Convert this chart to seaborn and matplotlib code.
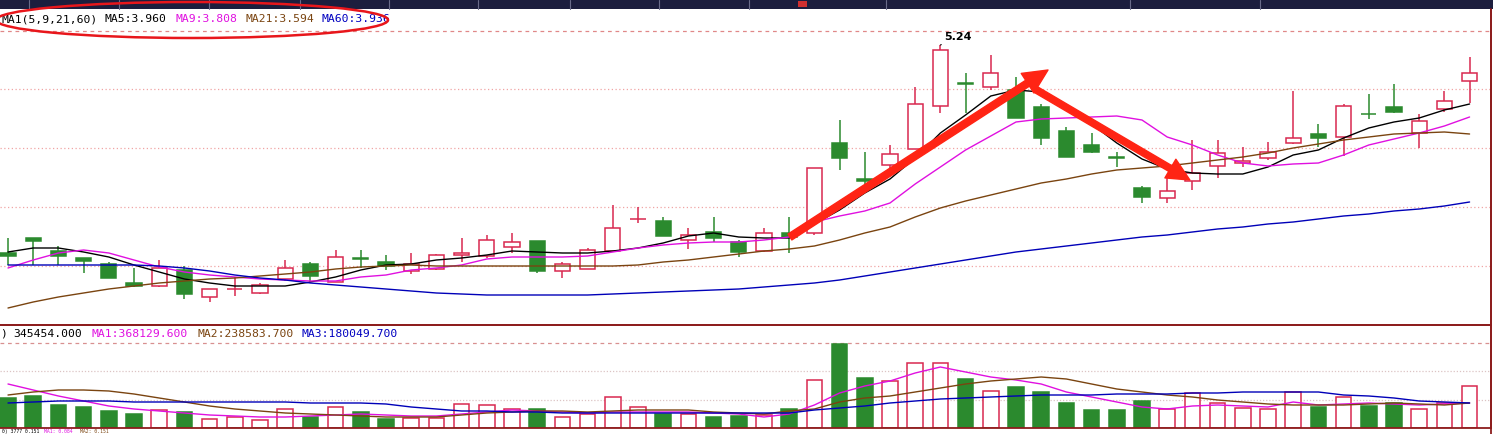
import numpy as np
import pandas as pd
import matplotlib
matplotlib.use("Agg")
import matplotlib.pyplot as plt
import seaborn as sns
from matplotlib.patches import Ellipse, Rectangle
from matplotlib.lines import Line2D

# ---------------- data ----------------
opens = [3.992, 4.082, 4.004, 3.962, 3.926, 3.812, 3.794, 3.890, 3.728, 3.776,
         3.752, 3.836, 3.926, 3.818, 3.962, 3.938, 3.884, 3.896, 3.980, 3.974,
         4.028, 4.064, 3.884, 3.896, 4.004, 4.196, 4.184, 4.070, 4.118, 4.058,
         4.004, 4.112, 4.112, 4.652, 4.436, 4.520, 4.616, 4.874, 5.010, 4.988,
         4.970, 4.868, 4.724, 4.640, 4.565, 4.382, 4.322, 4.424, 4.514, 4.532,
         4.562, 4.652, 4.706, 4.688, 4.829, 4.868, 4.712, 4.856, 5.024]
highs = [4.082, 4.082, 4.034, 3.962, 3.938, 3.902, 3.950, 3.914, 3.776, 3.848,
         3.812, 3.950, 3.938, 4.010, 4.010, 3.980, 3.992, 3.986, 4.082, 4.100,
         4.112, 4.064, 3.938, 4.022, 4.280, 4.268, 4.208, 4.142, 4.208, 4.070,
         4.142, 4.208, 4.502, 4.790, 4.598, 4.640, 4.988, 5.240, 5.072, 5.180,
         5.048, 4.886, 4.748, 4.712, 4.598, 4.394, 4.454, 4.670, 4.670, 4.628,
         4.658, 4.964, 4.766, 4.886, 4.946, 5.006, 4.826, 4.964, 5.168]
lows = [3.920, 3.920, 3.920, 3.872, 3.842, 3.788, 3.788, 3.716, 3.698, 3.734,
        3.746, 3.824, 3.818, 3.818, 3.902, 3.890, 3.866, 3.890, 3.938, 3.962,
        3.992, 3.872, 3.842, 3.896, 3.998, 4.172, 4.094, 4.016, 4.058, 3.968,
        3.998, 3.992, 4.100, 4.490, 4.358, 4.502, 4.616, 4.832, 4.832, 4.970,
        4.802, 4.640, 4.568, 4.592, 4.508, 4.292, 4.292, 4.370, 4.442, 4.508,
        4.550, 4.646, 4.628, 4.574, 4.796, 4.832, 4.622, 4.838, 4.892]
closes = [3.974, 4.064, 3.974, 3.944, 3.842, 3.794, 3.902, 3.746, 3.776, 3.778,
          3.800, 3.902, 3.854, 3.968, 3.956, 3.914, 3.926, 3.980, 3.992, 4.070,
          4.058, 3.884, 3.926, 4.010, 4.142, 4.198, 4.094, 4.100, 4.082, 3.998,
          4.112, 4.088, 4.502, 4.562, 4.424, 4.586, 4.886, 5.210, 5.004, 5.072,
          4.802, 4.682, 4.568, 4.598, 4.559, 4.328, 4.364, 4.472, 4.592, 4.544,
          4.598, 4.682, 4.682, 4.874, 4.823, 4.838, 4.784, 4.904, 5.072]

ma5 = [3.998, 4.022, 4.022, 3.998, 3.968, 3.920, 3.878, 3.836, 3.812, 3.794,
       3.794, 3.794, 3.818, 3.848, 3.890, 3.920, 3.926, 3.950, 3.962, 3.980,
       4.004, 3.998, 3.992, 3.992, 4.004, 4.022, 4.052, 4.094, 4.112, 4.088,
       4.082, 4.082, 4.166, 4.250, 4.352, 4.436, 4.562, 4.712, 4.820, 4.934,
       4.970, 4.958, 4.874, 4.766, 4.652, 4.556, 4.496, 4.472, 4.466, 4.466,
       4.508, 4.580, 4.610, 4.682, 4.742, 4.778, 4.802, 4.850, 4.886]
ma9 = [3.902, 3.950, 3.992, 4.010, 3.992, 3.950, 3.908, 3.878, 3.860, 3.848,
       3.836, 3.830, 3.824, 3.824, 3.848, 3.860, 3.890, 3.902, 3.920, 3.956,
       3.968, 3.968, 3.968, 3.974, 3.998, 4.022, 4.040, 4.052, 4.058, 4.058,
       4.070, 4.088, 4.178, 4.214, 4.244, 4.292, 4.406, 4.508, 4.610, 4.694,
       4.778, 4.796, 4.802, 4.808, 4.814, 4.790, 4.688, 4.640, 4.580, 4.532,
       4.514, 4.526, 4.532, 4.580, 4.640, 4.676, 4.712, 4.754, 4.808]
ma21 = [3.662, 3.698, 3.728, 3.752, 3.776, 3.794, 3.812, 3.824, 3.836, 3.842,
        3.854, 3.866, 3.878, 3.896, 3.908, 3.914, 3.920, 3.914, 3.914, 3.914,
        3.914, 3.914, 3.914, 3.914, 3.914, 3.920, 3.938, 3.950, 3.968, 3.986,
        4.004, 4.016, 4.034, 4.070, 4.112, 4.148, 4.208, 4.262, 4.304, 4.340,
        4.376, 4.412, 4.436, 4.466, 4.490, 4.502, 4.514, 4.532, 4.550, 4.568,
        4.592, 4.622, 4.646, 4.670, 4.688, 4.706, 4.712, 4.718, 4.706]
ma60 = [3.920, 3.920, 3.920, 3.920, 3.920, 3.920, 3.914, 3.902, 3.884, 3.860,
        3.842, 3.830, 3.812, 3.800, 3.788, 3.776, 3.764, 3.752, 3.746, 3.740,
        3.740, 3.740, 3.740, 3.740, 3.746, 3.752, 3.758, 3.764, 3.770, 3.776,
        3.788, 3.800, 3.812, 3.830, 3.854, 3.878, 3.902, 3.926, 3.950, 3.974,
        3.998, 4.016, 4.034, 4.052, 4.070, 4.088, 4.100, 4.118, 4.136, 4.148,
        4.166, 4.178, 4.196, 4.214, 4.226, 4.244, 4.256, 4.274, 4.298]

volume = [300000, 320000, 230000, 210000, 170000, 140000, 180000, 160000, 90000, 110000,
          80000, 190000, 110000, 210000, 160000, 90000, 100000, 100000, 240000, 230000,
          190000, 190000, 110000, 140000, 310000, 210000, 140000, 140000, 110000, 120000,
          130000, 190000, 480000, 840000, 500000, 470000, 650000, 650000, 490000, 370000,
          410000, 360000, 250000, 180000, 180000, 270000, 190000, 350000, 250000, 200000,
          190000, 360000, 210000, 310000, 220000, 250000, 190000, 250000, 420000]
vol_ma1 = [440000, 380000, 320000, 270000, 220000, 190000, 170000, 150000, 130000, 120000,
           110000, 110000, 120000, 130000, 140000, 130000, 120000, 120000, 140000, 160000,
           180000, 170000, 160000, 150000, 160000, 160000, 160000, 160000, 150000, 140000,
           110000, 140000, 230000, 350000, 420000, 470000, 550000, 610000, 560000, 510000,
           480000, 440000, 360000, 310000, 260000, 210000, 190000, 220000, 230000, 220000,
           210000, 260000, 230000, 240000, 250000, 240000, 230000, 240000, 250000]
vol_ma2 = [330000, 360000, 380000, 380000, 370000, 340000, 300000, 260000, 220000, 190000,
           170000, 150000, 140000, 130000, 120000, 110000, 110000, 110000, 130000, 150000,
           160000, 170000, 170000, 160000, 170000, 180000, 180000, 180000, 160000, 150000,
           140000, 170000, 190000, 260000, 300000, 320000, 360000, 400000, 440000, 470000,
           490000, 510000, 490000, 440000, 390000, 360000, 330000, 310000, 280000, 260000,
           240000, 230000, 230000, 230000, 240000, 250000, 240000, 230000, 250000]
vol_ma3 = [250000, 260000, 270000, 270000, 270000, 260000, 260000, 260000, 260000, 260000,
           260000, 260000, 250000, 250000, 250000, 240000, 210000, 190000, 170000, 170000,
           160000, 160000, 150000, 150000, 150000, 150000, 150000, 150000, 150000, 150000,
           150000, 150000, 180000, 200000, 220000, 250000, 270000, 290000, 300000, 310000,
           320000, 330000, 330000, 330000, 340000, 340000, 340000, 350000, 350000, 360000,
           360000, 360000, 360000, 330000, 320000, 300000, 270000, 260000, 250000]

price_grid = [4.976, 4.622, 4.268, 3.914]
price_top_line = 5.324
vol_grid = [570000, 280000]
vol_top_line = 850000

header_price = [("MA1(5,9,21,60)", "#000000"), ("MA5:3.960", "#000000"),
                ("MA9:3.808", "#e010e0"), ("MA21:3.594", "#7a4410"),
                ("MA60:3.936", "#0000c0")]
header_vol = [(")", "#000000"), ("345454.000", "#000000"), ("MA1:368129.600", "#e010e0"),
              ("MA2:238583.700", "#7a4410"), ("MA3:180049.700", "#0000c0")]
header_low = [("0) 3777 0.151", "#000000"), ("MA1: 0.084", "#e010e0"), ("MA2: 0.151", "#7a4410")]
peak_label = "5.24"

# ---------------- style ----------------
sns.set_style("white")
plt.rcParams['font.family'] = ['DejaVu Sans']

RED = "#d8284f"
GREEN = "#2b8a2e"
MAROON = "#8c1c1c"
MA_COLORS = {"MA5": "#000000", "MA9": "#e010e0", "MA21": "#7a4410", "MA60": "#0000b8"}
VMA_COLORS = {"MA1": "#e010e0", "MA2": "#7a4410", "MA3": "#0000b8"}

W, H = 1493, 434
fig = plt.figure(figsize=(W / 100, H / 100), dpi=100, facecolor="white")
ax = fig.add_axes([0, (H - 325) / H, 1491 / W, 315 / H])
axv = fig.add_axes([0, (H - 428) / H, 1491 / W, 103 / H])

o = np.array(opens); h = np.array(highs); l = np.array(lows); c = np.array(closes)
idx = np.arange(len(o))
up = c >= o
edge = np.where(up, RED, GREEN)
face = np.where(up, "white", GREEN)

# ---- price panel ----
for y in price_grid:
    ax.axhline(y, color="#f0a4a4", lw=0.9, ls=(0, (1, 2)), zorder=0)
ax.axhline(price_top_line, color="#e08888", lw=0.9, ls=(0, (3, 3)), zorder=0)

ax.vlines(idx, l, h, colors=edge, lw=1.1, zorder=2)
ax.bar(idx, np.maximum(np.abs(c - o), 0.0015), bottom=np.minimum(o, c), width=0.6,
       color=face, edgecolor=edge, linewidth=1.1, zorder=3)

ma_df = pd.DataFrame({"idx": idx, "MA5": ma5, "MA9": ma9, "MA21": ma21, "MA60": ma60})
ma_long = ma_df.melt(id_vars="idx", var_name="ma", value_name="price")
sns.lineplot(data=ma_long, x="idx", y="price", hue="ma", palette=MA_COLORS,
             estimator=None, sort=False, legend=False, lw=1.0, ax=ax, zorder=4)

ax.annotate(peak_label, xy=(37, highs[37]), xytext=(3, 2), textcoords="offset points",
            fontsize=8, fontweight="bold", color="black", ha="left", va="bottom",
            arrowprops=dict(arrowstyle="-", color="black", lw=0.8, shrinkA=0, shrinkB=0),
            zorder=6)

# hand-drawn red arrows
arrow_style = "simple,head_length=1.25,head_width=1.2,tail_width=0.36"
ax.annotate("", xy=(41.27, 5.09), xytext=(31.03, 4.088),
            arrowprops=dict(arrowstyle=arrow_style, color="#ff2414", mutation_scale=14,
                            shrinkA=0, shrinkB=0), annotation_clip=False, zorder=7)
ax.annotate("", xy=(46.9, 4.43), xytext=(40.75, 4.976),
            arrowprops=dict(arrowstyle=arrow_style, color="#ff2414", mutation_scale=13,
                            shrinkA=0, shrinkB=0), annotation_clip=False, zorder=7)

ax.set_xlim(-0.3175, 58.85)
ax.set_ylim(3.56, 5.45)
ax.set_xticks([]); ax.set_yticks([])
ax.set_xlabel(""); ax.set_ylabel("")
for s in ["top", "left"]:
    ax.spines[s].set_visible(False)
for s in ["bottom", "right"]:
    ax.spines[s].set_color(MAROON); ax.spines[s].set_linewidth(1.3)

# ---- volume panel ----
for y in vol_grid:
    axv.axhline(y, color="#dcc4c4", lw=0.9, ls=(0, (1, 1.5)), zorder=0)
axv.axhline(vol_top_line, color="#d89090", lw=0.9, ls=(0, (3, 3)), zorder=0)
axv.bar(idx, volume, width=0.62, color=face, edgecolor=edge, linewidth=1.1, zorder=2)
vma_df = pd.DataFrame({"idx": idx, "MA1": vol_ma1, "MA2": vol_ma2, "MA3": vol_ma3})
vma_long = vma_df.melt(id_vars="idx", var_name="ma", value_name="vol")
sns.lineplot(data=vma_long, x="idx", y="vol", hue="ma", palette=VMA_COLORS,
             estimator=None, sort=False, legend=False, lw=1.0, ax=axv, zorder=4)
axv.set_xlim(-0.3175, 58.85)
axv.set_ylim(0, 1030000)
axv.set_xticks([]); axv.set_yticks([])
axv.set_xlabel(""); axv.set_ylabel("")
axv.patch.set_alpha(0)
axv.spines["left"].set_visible(False)
for s in ["top", "bottom", "right"]:
    axv.spines[s].set_color(MAROON); axv.spines[s].set_linewidth(1.3)

# ---- header texts ----
def put_row(items, xs, y, size=8.2, va="center"):
    for (s, col), x in zip(items, xs):
        fig.text(x / W, 1 - y / H, s, color=col, fontsize=size, family="DejaVu Sans Mono",
                 ha="left", va=va)

put_row(header_price, [2, 104, 175, 245, 321], 19)
put_row(header_vol, [0, 13, 91, 197, 302], 334)
put_row(header_low, [2, 44, 80], 431.3, size=3.4)

# ---- top dark bar, right border, red ellipse ----
fig.add_artist(Rectangle((0, 1 - 9 / H), 1, 9 / H, transform=fig.transFigure,
                         facecolor="#1c1e3e", edgecolor="none", zorder=10))
for xs in [29, 119, 209, 300, 389, 478, 570, 659, 749, 886, 1130, 1260]:
    fig.add_artist(Line2D([xs / W, xs / W], [1 - 9 / H, 1], transform=fig.transFigure,
                          color="#6a6c8a", lw=0.8, zorder=11))
fig.add_artist(Rectangle((798 / W, 1 - 7 / H), 9 / W, 6 / H, transform=fig.transFigure,
                         facecolor="#d03030", edgecolor="none", zorder=11))
fig.add_artist(Line2D([1491 / W, 1491 / W], [0, 1 - 9 / H], transform=fig.transFigure,
                      color=MAROON, lw=1.3, zorder=11))
fig.add_artist(Ellipse((192 / W, 1 - 20 / H), 392 / W, 36 / H, transform=fig.transFigure,
                       fill=False, edgecolor="#e8161b", lw=1.8, zorder=12))

fig.savefig("out.png", dpi=100, facecolor="white")
